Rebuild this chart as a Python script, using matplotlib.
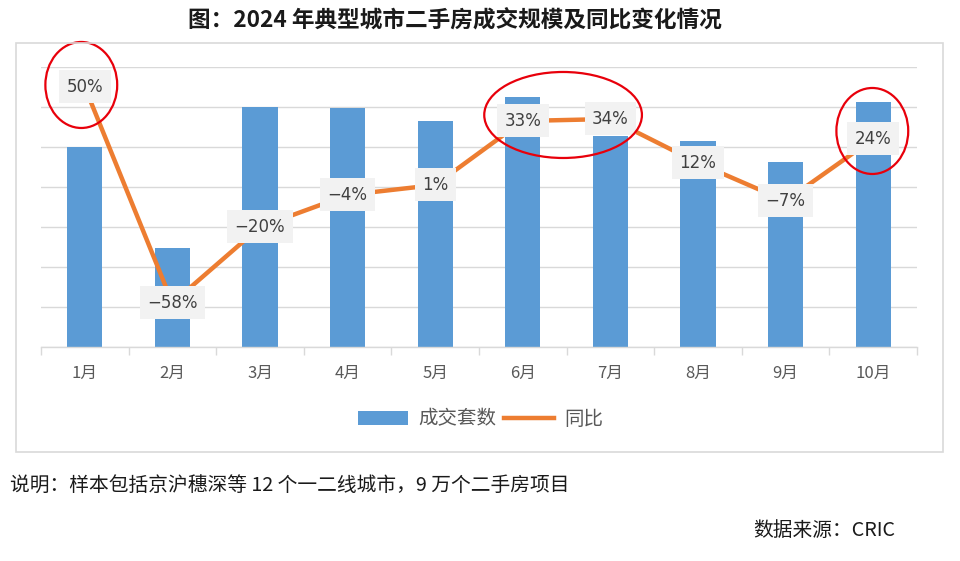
import matplotlib
matplotlib.use("Agg")
import matplotlib.pyplot as plt
from matplotlib.patches import Ellipse, Rectangle, Patch
from matplotlib.lines import Line2D

plt.rcParams['font.family'] = ['Noto Sans CJK SC', 'DejaVu Sans']
plt.rcParams['axes.unicode_minus'] = True

# ---- data ----
months = ["1月", "2月", "3月", "4月", "5月", "6月", "7月", "8月", "9月", "10月"]
volume = [5.00, 2.47, 6.00, 5.97, 5.65, 6.25, 5.28, 5.15, 4.62, 6.13]   # 成交套数 (万套, est.)
yoy = [50, -58, -20, -4, 1, 33, 34, 12, -7, 24]                          # 同比 (%)
highlight = [(-0.04, 51, 0.82, 43), (5.46, 36, 1.80, 43), (8.99, 28, 0.82, 43)]  # ellipse annotations

title = "图：2024 年典型城市二手房成交规模及同比变化情况"
note = "说明：样本包括京沪穗深等 12 个一二线城市，9 万个二手房项目"
source = "数据来源：CRIC"

BAR = "#5B9BD5"
LINE = "#ED7D31"
GRID = "#D9D9D9"
TXT = "#595959"

fig = plt.figure(figsize=(9.6, 5.61), dpi=100)
fig.patch.set_facecolor("white")

# outer chart frame
fig.patches.append(Rectangle((0.0167, 0.1943), 0.9656, 0.729, transform=fig.transFigure,
                             fill=False, edgecolor=GRID, linewidth=1.2, zorder=0))

ax = fig.add_axes([0.0427, 0.3815, 0.9125, 0.4991])
x = list(range(len(months)))
ax.bar(x, volume, width=0.4, color=BAR, zorder=2)
ax.set_xlim(-0.5, len(months) - 0.5)
ax.set_ylim(0, 7)
ax.set_yticks(range(0, 8))
ax.yaxis.grid(True, color=GRID, linewidth=1.0, zorder=0)
ax.set_axisbelow(True)
for s in ["top", "right", "left"]:
    ax.spines[s].set_visible(False)
ax.spines["bottom"].set_color(GRID)
ax.spines["bottom"].set_linewidth(1.0)
ax.set_xticks(x)
ax.set_xticklabels(months, fontsize=12, color=TXT)
ax.tick_params(axis='x', which='major', length=0, pad=13)
ax.set_xticks([i - 0.5 for i in range(len(months) + 1)], minor=True)
ax.tick_params(axis='x', which='minor', length=6, color=GRID, width=1.0)

ax2 = ax.twinx()
ax2.set_ylim(-80, 60)
ax2.plot(x, yoy, color=LINE, linewidth=3.2, solid_capstyle='round', zorder=3)
ax2.set_yticks([])
for s in ["top", "right", "left", "bottom"]:
    ax2.spines[s].set_visible(False)
ax.tick_params(axis='y', which='both', left=False, right=False, labelleft=False, labelright=False)
ax2.tick_params(axis='y', which='both', left=False, right=False, labelleft=False, labelright=False)

for xi, v in zip(x, yoy):
    lab = f"{v}%".replace("-", "−")
    ax2.text(xi, v, lab, ha='center', va='center', fontsize=12, color="#404040",
             family=['DejaVu Sans'],
             bbox=dict(boxstyle="square,pad=0.45", facecolor="#F2F2F2", edgecolor="none"),
             zorder=4)

for cx, cy, w, h in highlight:
    ax2.add_patch(Ellipse((cx, cy), w, h, fill=False, edgecolor="#E8000B",
                          linewidth=1.6, clip_on=False, zorder=5))

handles = [Patch(facecolor=BAR, edgecolor="none"),
           Line2D([0], [0], color=LINE, linewidth=3.2)]
fig.legend(handles, ["成交套数", "同比"], loc='center', bbox_to_anchor=(0.5005, 0.253),
           ncol=2, frameon=False, fontsize=14, labelcolor=TXT,
           handlelength=2.6, handletextpad=0.5, columnspacing=0.4)

fig.text(0.474, 0.962, title, ha='center', va='center', fontsize=16.3, fontweight='bold',
         color="#1a1a1a")
fig.text(0.010, 0.133, note, ha='left', va='center', fontsize=14.2, color="#1a1a1a")
fig.text(0.932, 0.055, source, ha='right', va='center', fontsize=14.2, color="#1a1a1a")

fig.savefig("out.png", dpi=100)
